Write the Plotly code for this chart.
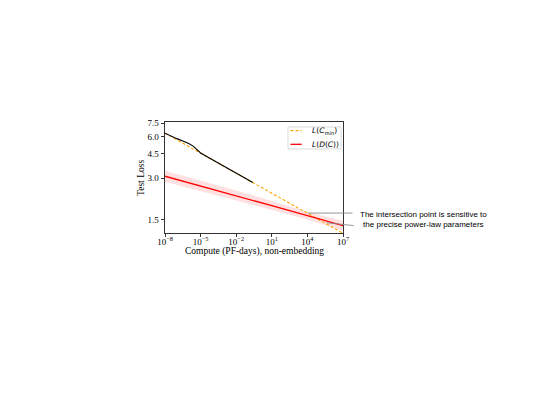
import plotly.graph_objects as go

# ---- data ----
x_cmin = [1e-8, 1e7]
y_cmin = [6.35, 1.20]

x_dc = [1e-8, 1e-5, 1e-2, 1e1, 1e4, 1e7]
y_dc = [3.10, 2.64, 2.25, 1.90, 1.61, 1.36]
y_dc_hi = [3.40, 2.89, 2.45, 2.05, 1.71, 1.48]
y_dc_lo = [2.83, 2.41, 2.07, 1.77, 1.51, 1.25]

x_emp = [1e-8, 10**-7.5, 1e-7, 10**-6.5, 1e-6, 10**-5.6, 10**-5.3, 1e-5,
         1e-4, 1e-3, 1e-2, 1e-1, 10**-0.6]
y_emp = [6.35, 6.05, 5.80, 5.57, 5.35, 5.10, 4.80, 4.57,
         4.08, 3.65, 3.27, 2.92, 2.79]

x_ticks = [1e-8, 1e-5, 1e-2, 1e1, 1e4, 1e7]
x_ticktext = ["10<sup>\u22128</sup>", "10<sup>\u22125</sup>", "10<sup>\u22122</sup>",
              "10<sup>1</sup>", "10<sup>4</sup>", "10<sup>7</sup>"]
y_ticks = [1.5, 3.0, 4.5, 6.0, 7.5]
y_ticktext = ["1.5", "3.0", "4.5", "6.0", "7.5"]

legend_names = ["<i>L</i>(<i>C</i><sub>min</sub>)", "<i>L</i>(<i>D</i>(<i>C</i>))"]
x_title = "Compute (PF-days), non-embedding"
y_title = "Test Loss"
annot_text = "The intersection point is sensitive to<br>the precise power-law parameters"

serif = "Liberation Serif, Times New Roman, serif"
sans = "Liberation Sans, Arial, sans-serif"
math = "DejaVu Sans, sans-serif"

fig = go.Figure()

# uncertainty band
fig.add_trace(go.Scatter(x=x_dc, y=y_dc_hi, mode="lines", line=dict(width=0),
                         showlegend=False, hoverinfo="skip"))
fig.add_trace(go.Scatter(x=x_dc, y=y_dc_lo, mode="lines", line=dict(width=0),
                         fill="tonexty", fillcolor="rgba(255,0,0,0.12)",
                         showlegend=False, hoverinfo="skip"))

fig.add_trace(go.Scatter(x=x_cmin, y=y_cmin, mode="lines",
                         line=dict(color="orange", width=1.1, dash="3px,2px"),
                         name=legend_names[0], showlegend=False))
fig.add_trace(go.Scatter(x=x_dc, y=y_dc, mode="lines",
                         line=dict(color="red", width=1.3),
                         name=legend_names[1], showlegend=False))
fig.add_trace(go.Scatter(x=x_emp, y=y_emp, mode="lines",
                         line=dict(color="black", width=1.1),
                         showlegend=False))

# legend drawn inside the axes (matplotlib-style compact box)
fig.add_shape(type="rect", xref="paper", yref="paper", x0=0.691, x1=0.989,
              y0=0.757, y1=0.955, line=dict(color="#d0d0d0", width=0.8),
              fillcolor="rgba(255,255,255,0.9)")
fig.add_shape(type="line", xref="paper", yref="paper", x0=0.705, x1=0.768,
              y0=0.922, y1=0.922, line=dict(color="orange", width=1.1, dash="3px,2px"))
fig.add_shape(type="line", xref="paper", yref="paper", x0=0.705, x1=0.768,
              y0=0.799, y1=0.799, line=dict(color="red", width=1.3))
for name, yy in zip(legend_names, [0.922, 0.799]):
    fig.add_annotation(xref="paper", yref="paper", x=0.812, y=yy, text=name,
                       showarrow=False, xanchor="left", yanchor="middle",
                       font=dict(family=math, size=7.5, color="black"))

# axis titles
fig.add_annotation(xref="paper", yref="paper", x=0.5, y=-0.165, text=x_title,
                   showarrow=False, xanchor="center", yanchor="middle",
                   font=dict(family=serif, size=9.5, color="black"))
fig.add_annotation(xref="paper", yref="paper", x=-0.138, y=0.5, text=y_title,
                   showarrow=False, xanchor="center", yanchor="middle", textangle=-90,
                   font=dict(family=serif, size=9.5, color="black"))

# annotation text and pointer lines
fig.add_annotation(xref="paper", yref="paper", x=1.455, y=0.122, text=annot_text,
                   showarrow=False, xanchor="center", yanchor="middle",
                   align="center",
                   font=dict(family=sans, size=8, color="black"))
fig.add_annotation(x=4.05, y=0.2253, xref="x", yref="y", text="",
                   showarrow=True, arrowhead=0, arrowwidth=0.9,
                   arrowcolor="#888888", ax=46, ay=0)
fig.add_annotation(x=5.65, y=0.155, xref="x", yref="y", text="",
                   showarrow=True, arrowhead=0, arrowwidth=0.9,
                   arrowcolor="#888888", ax=28, ay=3)

fig.update_xaxes(type="log", range=[-8, 7], tickvals=x_ticks, ticktext=x_ticktext,
                 ticks="outside", ticklen=3.5, tickwidth=0.8, tickcolor="#333",
                 showline=True, linecolor="#333", linewidth=0.8, mirror=True,
                 showgrid=False, zeroline=False, ticklabelstandoff=-3,
                 tickfont=dict(family=serif, size=9, color="black"))
fig.update_yaxes(type="log", range=[0.0810, 0.8837], tickvals=y_ticks, ticktext=y_ticktext,
                 ticks="outside", ticklen=3.5, tickwidth=0.8, tickcolor="#333",
                 showline=True, linecolor="#333", linewidth=0.8, mirror=True,
                 showgrid=False, zeroline=False,
                 tickfont=dict(family=serif, size=9, color="black"))

fig.update_layout(
    width=537, height=405,
    margin=dict(l=157, r=202, t=114, b=180, pad=0),
    paper_bgcolor="white", plot_bgcolor="white",
    showlegend=False,
)

fig.write_html("out.html")
